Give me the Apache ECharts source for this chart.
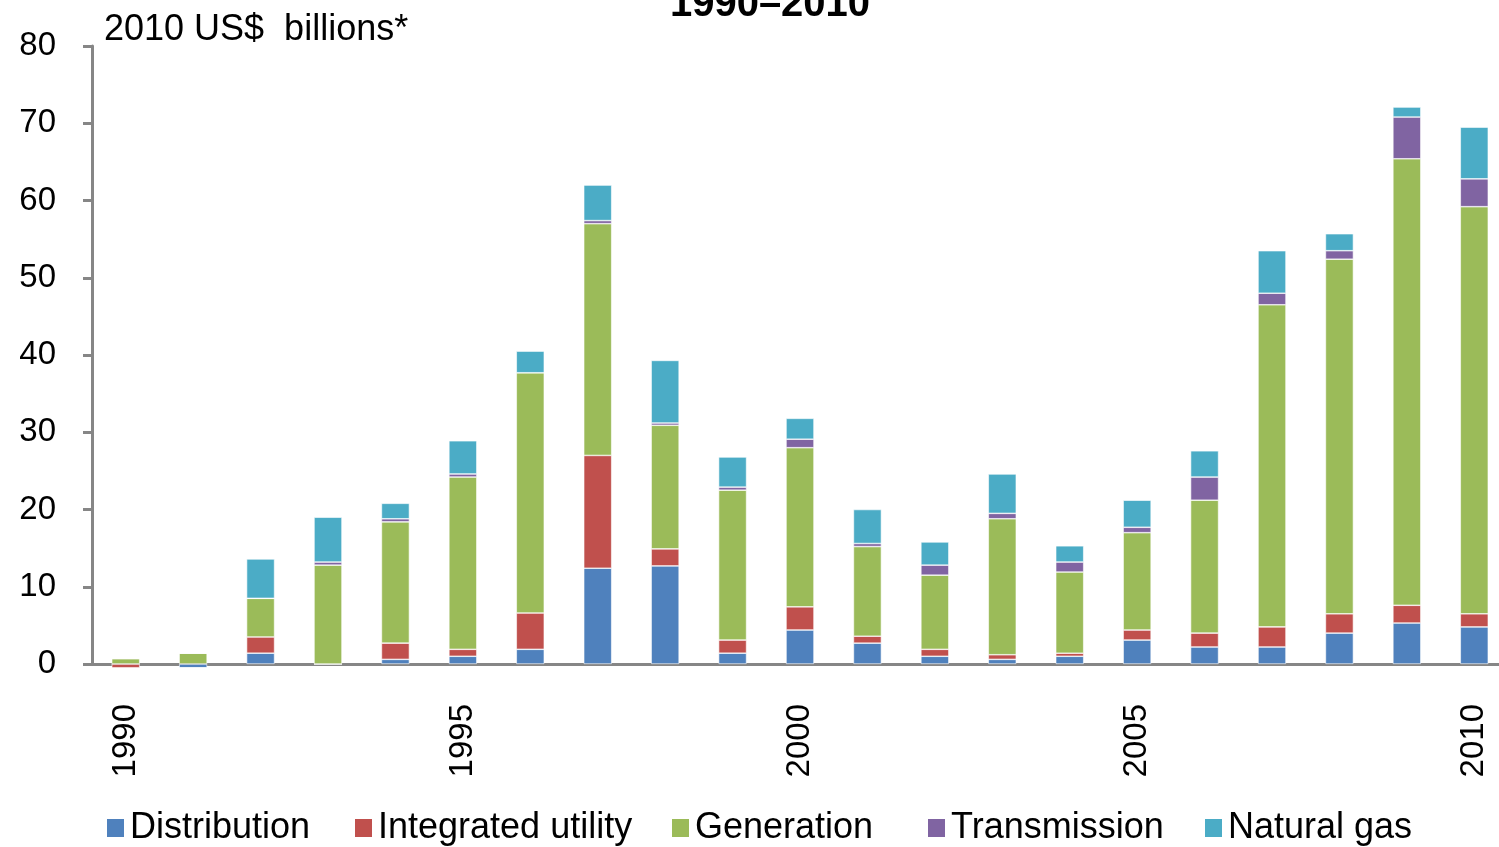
<!DOCTYPE html>
<html>
<head>
<meta charset="utf-8">
<script src="https://cdn.jsdelivr.net/npm/echarts@6/dist/echarts.min.js"></script>
<style>
  html, body { margin: 0; padding: 0; background: #fff; overflow: hidden; }
  /* the last bar runs past the right edge in the original, so the canvas is a bit wider than the window */
  #chart { width: 1512px; height: 847px; }
</style>
</head>
<body>
<div id="chart"></div>
<script>
const years = ['1990', '1991', '1992', '1993', '1994', '1995', '1996', '1997', '1998', '1999', '2000',
  '2001', '2002', '2003', '2004', '2005', '2006', '2007', '2008', '2009', '2010'];

const distribution = [0, -0.5, 1.4, 0, 0.6, 1.0, 1.9, 12.4, 12.7, 1.4, 4.4, 2.7, 1.0, 0.6, 1.0, 3.1, 2.2, 2.2, 4.0, 5.3, 4.8];
const integratedUtility = [-0.5, 0, 2.1, 0, 2.1, 0.9, 4.7, 14.6, 2.2, 1.7, 3.0, 0.9, 0.9, 0.6, 0.4, 1.3, 1.8, 2.6, 2.5, 2.3, 1.7];
const generation = [0.7, 1.4, 5.0, 12.8, 15.7, 22.3, 31.1, 30.0, 16.0, 19.4, 20.6, 11.6, 9.6, 17.6, 10.5, 12.6, 17.2, 41.7, 45.9, 57.8, 52.7];
const transmission = [0, 0, 0, 0.4, 0.4, 0.4, 0, 0.4, 0.3, 0.4, 1.1, 0.4, 1.3, 0.7, 1.3, 0.7, 3.0, 1.5, 1.1, 5.4, 3.6];
const naturalGas = [0, 0, 5.1, 5.8, 2.0, 4.3, 2.8, 4.6, 8.1, 3.9, 2.7, 4.4, 3.0, 5.1, 2.1, 3.5, 3.4, 5.5, 2.2, 1.3, 6.7];

const seriesDefs = [
  { name: 'Distribution', data: distribution, color: '#4F81BD' },
  { name: 'Integrated utility', data: integratedUtility, color: '#C0504D' },
  { name: 'Generation', data: generation, color: '#9BBB59' },
  { name: 'Transmission', data: transmission, color: '#8064A2' },
  { name: 'Natural gas', data: naturalGas, color: '#4BACC6' }
];

// legend item x positions (Excel spaces them unevenly)
const legendLeft = [105, 353, 670, 926, 1203];

const font = 'Liberation Sans, Arial, sans-serif';
const chart = echarts.init(document.getElementById('chart'));

chart.setOption({
  animation: false,
  title: {
    text: '1990\u20132010',
    left: 765,
    textAlign: 'center',
    top: -20,
    textStyle: { fontFamily: font, fontSize: 40, fontWeight: 'bold', color: '#000' }
  },
  legend: seriesDefs.map((s, i) => ({
    left: legendLeft[i],
    top: 810,
    padding: 0,
    icon: 'rect',
    itemWidth: 19,
    itemHeight: 20,
    textStyle: { fontFamily: font, fontSize: 36, color: '#000' },
    data: [s.name]
  })),
  grid: {
    left: 92,
    right: 4,
    top: 46,
    bottom: 183,
    containLabel: false
  },
  xAxis: {
    type: 'category',
    data: years,
    axisLine: { lineStyle: { color: '#868686', width: 3 } },
    axisTick: { show: false },
    axisLabel: {
      interval: 4,
      rotate: 90,
      margin: 40,
      fontFamily: font,
      fontSize: 33,
      color: '#000'
    }
  },
  yAxis: {
    type: 'value',
    min: 0,
    max: 80,
    interval: 10,
    name: '2010 US$  billions*',
    nameLocation: 'end',
    nameGap: 16,
    nameTextStyle: {
      fontFamily: font,
      fontSize: 36,
      color: '#000',
      align: 'left',
      verticalAlign: 'middle',
      padding: [0, 0, 0, 12]
    },
    axisLine: { show: true, lineStyle: { color: '#868686', width: 3 } },
    axisTick: { show: true, length: 9, lineStyle: { color: '#868686', width: 3 } },
    splitLine: { show: false },
    axisLabel: { margin: 36, fontFamily: font, fontSize: 33, color: '#000' }
  },
  series: seriesDefs.map(s => ({
    name: s.name,
    type: 'bar',
    stack: 'total',
    barWidth: 28,
    clip: false,
    data: s.data,
    itemStyle: { color: s.color, borderColor: '#fff', borderWidth: 0.6 }
  }))
});
</script>
</body>
</html>
